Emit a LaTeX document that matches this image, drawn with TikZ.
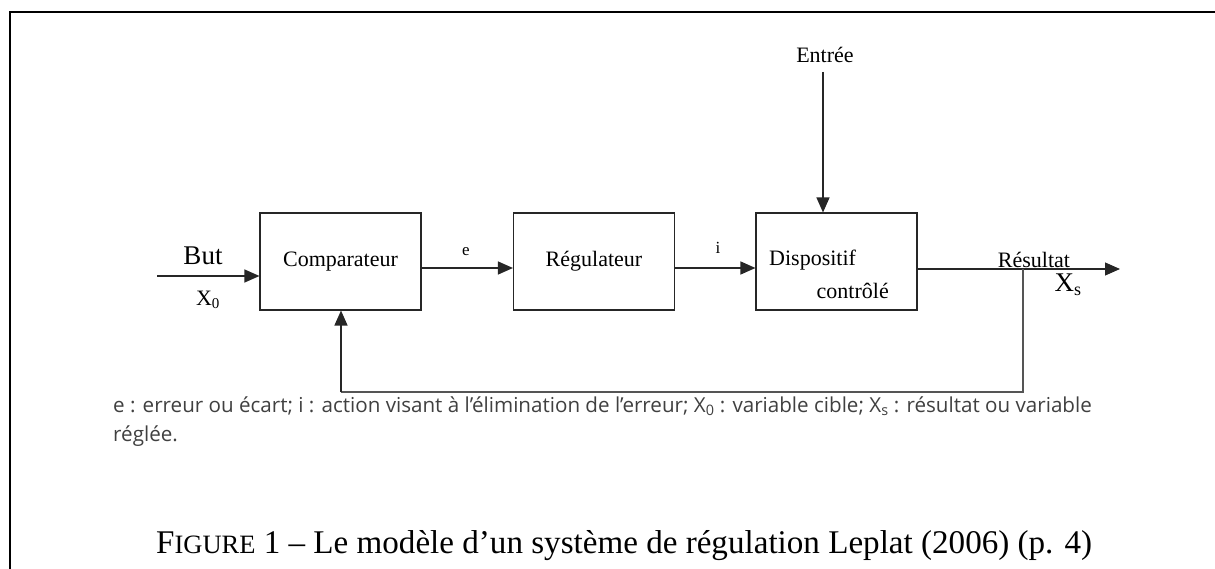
\documentclass[tikz,border=0pt]{standalone}
\usepackage{fontspec}
\setmainfont{Liberation Serif}
\newfontfamily\notefont[Ligatures={NoCommon,NoRequired}]{Open Sans}
\usetikzlibrary{arrows.meta}
\definecolor{notegray}{HTML}{404040}
\definecolor{linegray}{HTML}{555555}
\tikzset{
  blockbox/.style={draw=black!85, line width=1.1pt, minimum width=161pt, minimum height=97pt, inner sep=0pt, font=\fontsize{22}{26}\selectfont},
  lbl/.style={inner sep=0pt, font=\fontsize{22}{26}\selectfont},
  smalllbl/.style={inner sep=0pt, font=\fontsize{17}{18}\selectfont},
  biglbl/.style={inner sep=0pt, font=\fontsize{27}{30}\selectfont},
  conn/.style={draw=black!85, line width=1.2pt},
  arr/.style={conn, -{Triangle[length=15pt,width=13pt]}},
  fbline/.style={draw=linegray, line width=1.4pt},
  framebar/.style={draw=black, line width=1.4pt},
  note/.style={inner sep=0pt, text=notegray, font=\notefont\fontsize{20.6}{22}\selectfont},
  capt/.style={inner sep=0pt, font=\fontsize{33.1}{38}\selectfont}
}
\begin{document}
\begin{tikzpicture}[x=1pt,y=-1pt]
\useasboundingbox (0,0) rectangle (1215,569);
\fill[white] (0,0) rectangle (1215,569);
% frame
\coordinate (frTL) at (10,12);
\coordinate (frTR) at (1215,12);
\coordinate (frBL) at (10,569);
\draw[framebar] (frTR) -- (frTL) -- (frBL);
% blocks
\node[blockbox] (comp) at (340.5,261.5) {Comparateur};
\node[blockbox] (reg) at (594,261.5) {Régulateur};
\node[blockbox] (disp) at (836.5,261.5) {};
\node[lbl, anchor=west] (dispA) at (769,260) {Dispositif};
\node[lbl, anchor=east] (dispB) at (889,291) {contrôlé};
% input
\coordinate (inL) at (157,276);
\draw[arr] (inL) -- (inL -| comp.west);
\node[biglbl] (but) at (203,256) {But};
\node[lbl] (x0) at (208,300) {X\textsubscript{\fontsize{15}{15}\selectfont 0}};
% e arrow
\coordinate (row) at (0,268);
\draw[arr] (comp.east |- row) -- (reg.west |- row);
\node[smalllbl] (elbl) at (466,252) {e};
\draw[arr] (reg.east |- row) -- (disp.west |- row);
\node[smalllbl] (ilbl) at (718,248) {i};
% entree
\node[lbl] (entree) at (825,55) {Entrée};
\coordinate (entTop) at (823,72);
\draw[arr] (entTop) -- (entTop |- disp.north);
% output
\coordinate (outEnd) at (1120,269);
\draw[arr] (disp.east |- outEnd) -- (outEnd);
\node[lbl] (res) at (1034,260) {Résultat};
\node[biglbl] (xs) at (1068,285) {X\textsubscript{\fontsize{18}{18}\selectfont s}};
% feedback
\coordinate (fbR) at (1023,269);
\coordinate (fbL) at (341,392);
\draw[fbline] (fbR) |- (fbL);
\draw[fbline, -{Triangle[length=15pt,width=13pt]}, draw=black!85] (fbL) -- (fbL |- comp.south);
% notes
\node[note, anchor=base west] (note1) at (113,412) {e : erreur ou écart; i : action visant à l’élimination de l’erreur; X\textsubscript{0} : variable cible; X\textsubscript{s} : résultat ou variable};
\node[note, anchor=base west] (note2) at (113,441) {réglée.};
% caption
\node[capt, anchor=base west] (cap) at (156,553) {F{\fontsize{26.5}{30}\selectfont IGURE} 1 – Le modèle d’un système de régulation Leplat (2006) (p. 4)};
\end{tikzpicture}
\end{document}
